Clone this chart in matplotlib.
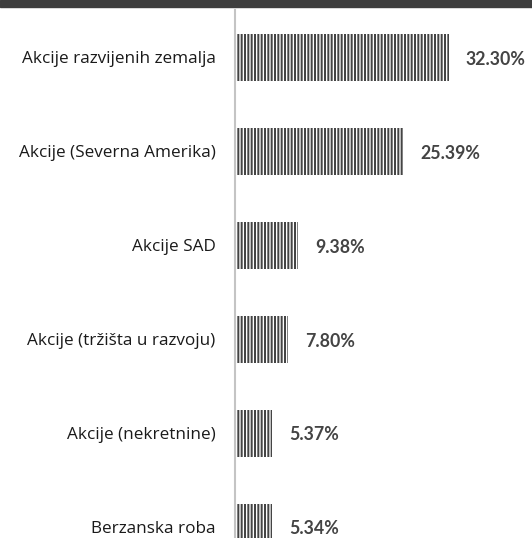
import matplotlib
matplotlib.use("Agg")
import matplotlib.pyplot as plt
from matplotlib.patches import Rectangle

categories = [
    "Akcije razvijenih zemalja",
    "Akcije (Severna Amerika)",
    "Akcije SAD",
    "Akcije (tržišta u razvoju)",
    "Akcije (nekretnine)",
    "Berzanska roba",
]
values = [32.30, 25.39, 9.38, 7.80, 5.37, 5.34]
value_labels = ["32.30%", "25.39%", "9.38%", "7.80%", "5.37%", "5.34%"]

plt.rcParams['font.family'] = ['Open Sans', 'DejaVu Sans']
plt.rcParams['hatch.linewidth'] = 1.45

W, H = 532, 538
fig = plt.figure(figsize=(W / 100, H / 100), dpi=100)

# dark strip along the top edge
fig.patches.append(Rectangle((0, 1 - 7 / H), 1, 7 / H, transform=fig.transFigure,
                             color='#3d3d3d', zorder=0))

ax = fig.add_axes([235 / W, 0, (W - 235) / W, 528 / H])

bar_color = '#444444'
pos = list(range(len(categories)))
ax.barh(pos, values, height=0.5, left=0.3, color='white', edgecolor=bar_color,
        linewidth=0, hatch='|||||')

for p, v, lab in zip(pos, values, value_labels):
    ax.text(v + 0.3 + 2.6, p + 0.02, lab, va='center', ha='left', fontsize=12.8,
            fontweight='bold', color='#444444', family=['Lato', 'DejaVu Sans'])

ax.set_xlim(0, 45.3)
ax.set_ylim(5.117, -0.505)
ax.set_yticks(pos)
ax.set_yticklabels(categories, fontsize=12.3, color='#1a1a1a')
ax.tick_params(axis='y', length=0, pad=14)
ax.set_xticks([])

for s in ['top', 'right', 'bottom']:
    ax.spines[s].set_visible(False)
ax.spines['left'].set_color('#c4c4c4')
ax.spines['left'].set_linewidth(1.5)

fig.savefig("out.png", dpi=100)
